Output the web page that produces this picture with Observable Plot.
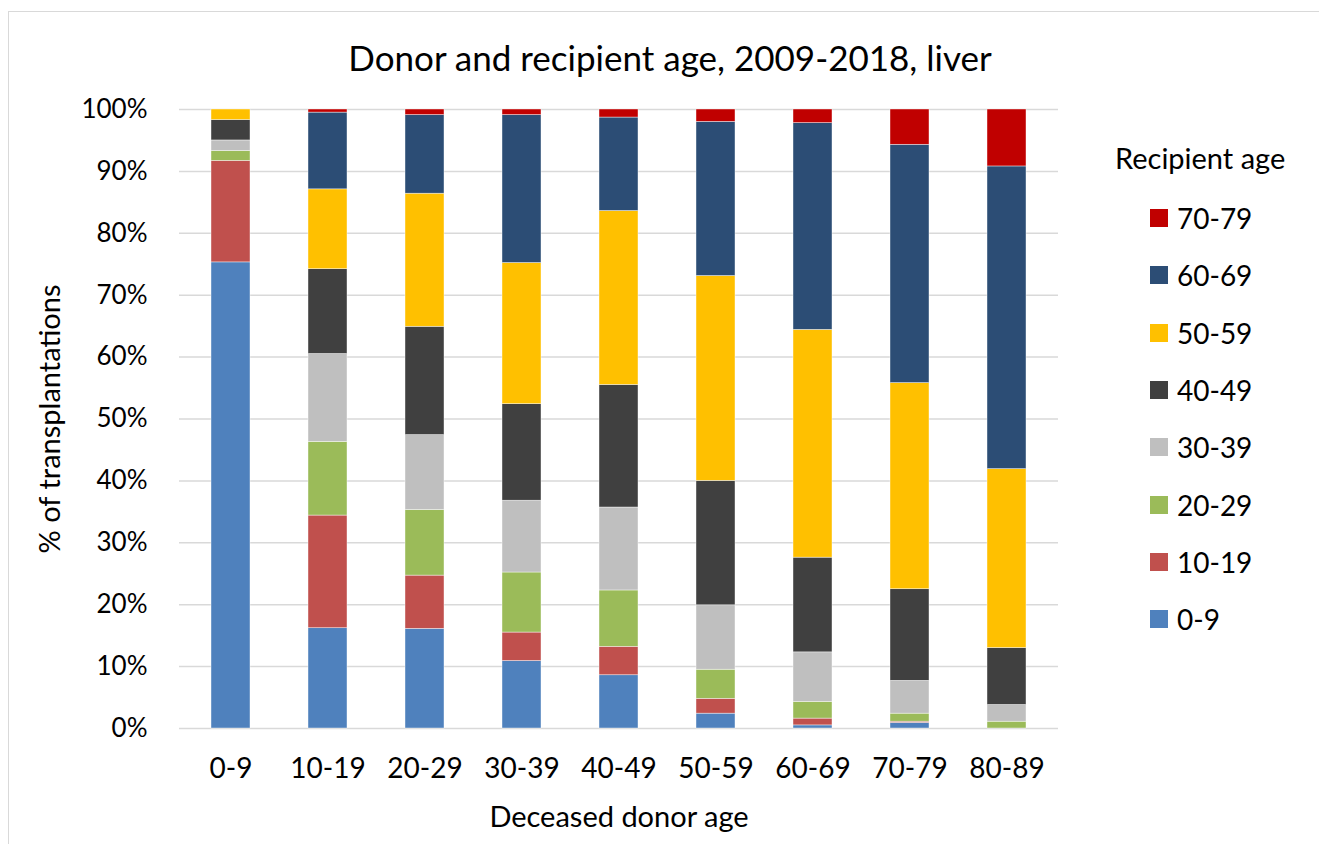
<!DOCTYPE html>
<html>
<head>
<meta charset="utf-8">
<script src="https://cdn.jsdelivr.net/npm/d3@7"></script>
<script src="https://cdn.jsdelivr.net/npm/@observablehq/plot@0.6"></script>
<style>
  html, body { margin: 0; padding: 0; background: #fff; }
  body { width: 1319px; height: 844px; position: relative; overflow: hidden; font-family: Lato, "Open Sans", sans-serif; color: #000; }
  #frame { position: absolute; left: 8px; top: 11px; width: 2000px; height: 2000px; border-left: 1.5px solid #d9d9d9; border-top: 1.5px solid #d9d9d9; }
  #chart { position: absolute; left: 0; top: 0; }
  #title { position: absolute; left: 170px; width: 1000px; top: 36px; text-align: center; font-size: 35px; line-height: 42px; white-space: nowrap; }
  #legend { position: absolute; left: 1100px; top: 140px; }
  .ltitle { position: absolute; left: 15px; top: 0; font-size: 29px; white-space: nowrap; line-height: 36px; }
  .litem { position: absolute; left: 77px; font-size: 28px; white-space: nowrap; line-height: 30px; height: 30px; }
  .sw { position: absolute; left: -27px; top: 6px; width: 18px; height: 18px; }
</style>
</head>
<body>
<div id="frame"></div>
<div id="chart"></div>
<div id="title">Donor and recipient age, 2009-2018, liver</div>
<div id="legend"></div>
<script>
const donorAges = ["0-9","10-19","20-29","30-39","40-49","50-59","60-69","70-79","80-89"];
const recipientAges = ["0-9","10-19","20-29","30-39","40-49","50-59","60-69","70-79"];
const colors = ["#4F81BD","#C0504D","#9BBB59","#BFBFBF","#404040","#FFC000","#2C4D75","#C00000"];
const yTicks = [0,10,20,30,40,50,60,70,80,90,100];

// % of transplantations per donor age group, one array per recipient age group
const r0_9   = [75.3,16.2,16.1,10.9, 8.6, 2.4, 0.5, 0.9, 0.0];
const r10_19 = [16.4,18.2, 8.6, 4.6, 4.6, 2.4, 1.1, 0.2, 0.0];
const r20_29 = [ 1.6,11.9,10.6, 9.7, 9.1, 4.7, 2.7, 1.3, 1.1];
const r30_39 = [ 1.7,14.2,12.1,11.6,13.4,10.4, 8.0, 5.3, 2.7];
const r40_49 = [ 3.3,13.7,17.5,15.6,19.8,20.1,15.3,14.8, 9.2];
const r50_59 = [ 1.7,12.9,21.5,22.8,28.1,33.1,36.8,33.3,28.9];
const r60_69 = [ 0.0,12.4,12.7,23.9,15.1,24.9,33.4,38.5,48.9];
const r70_79 = [ 0.0, 0.5, 0.9, 0.9, 1.3, 2.0, 2.2, 5.7, 9.2];

const series = [r0_9, r10_19, r20_29, r30_39, r40_49, r50_59, r60_69, r70_79];
const rows = [];
series.forEach((vals, i) => vals.forEach((v, j) => rows.push({donor: donorAges[j], recipient: recipientAges[i], value: v})));

const W = 1319, H = 844;
const chart = Plot.plot({
  width: W, height: H,
  marginLeft: 179, marginRight: W - 1058, marginTop: 109, marginBottom: H - 728,
  style: { fontFamily: "Lato, 'Open Sans', sans-serif", fontSize: "26px", color: "#000", background: "transparent" },
  x: { domain: donorAges, paddingInner: 0.6, paddingOuter: 0.3, label: null },
  y: { domain: [0, 100], label: null },
  color: { domain: recipientAges, range: colors },
  marks: [
    Plot.ruleY(yTicks, { stroke: "#d9d9d9", strokeWidth: 1.5 }),
    Plot.barY(rows, Plot.stackY({ order: null }, { x: "donor", y: "value", fill: "recipient", stroke: "#ffffff", strokeWidth: 0.6, strokeOpacity: 0.7 })),
    Plot.axisY({ ticks: yTicks, tickFormat: d => d + "%", tickSize: 0, tickPadding: 32, fontSize: 26, label: null }),
    Plot.axisX({ tickSize: 0, tickPadding: 30, fontSize: 28, label: null }),
    Plot.text(["% of transplantations"], { frameAnchor: "left", textAnchor: "middle", dx: -129, rotate: -90, fontSize: 29, text: d => d }),
    Plot.text(["Deceased donor age"], { frameAnchor: "bottom", dy: 98, fontSize: 29, text: d => d })
  ]
});
document.getElementById("chart").appendChild(chart);

const legend = document.getElementById("legend");
const lt = document.createElement("div");
lt.className = "ltitle"; lt.textContent = "Recipient age";
legend.appendChild(lt);
const order = recipientAges.map((r, i) => i).reverse();
order.forEach((i, k) => {
  const it = document.createElement("div");
  it.className = "litem";
  it.style.top = (63 + k * 57.3) + "px";
  const sw = document.createElement("span");
  sw.className = "sw"; sw.style.background = colors[i];
  it.appendChild(sw);
  it.appendChild(document.createTextNode(recipientAges[i]));
  legend.appendChild(it);
});
</script>
</body>
</html>
